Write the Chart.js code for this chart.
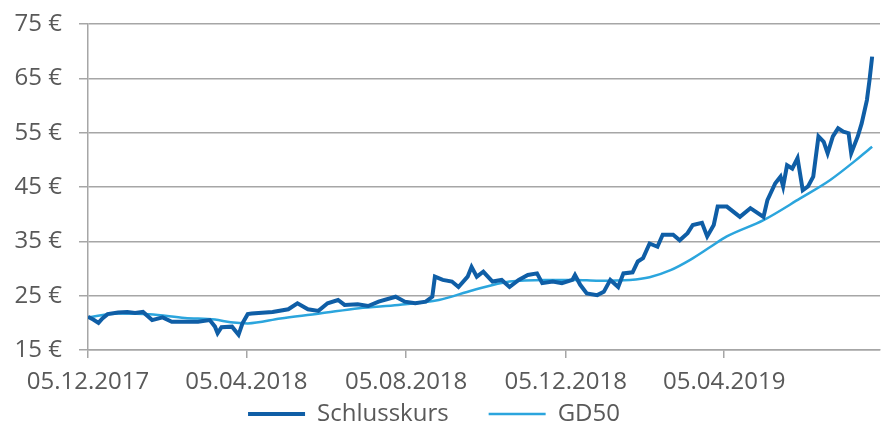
<!DOCTYPE html>
<html>
<head>
<meta charset="utf-8">
<script src="https://cdn.jsdelivr.net/npm/chart.js@4"></script>
<style>
  html, body { margin: 0; padding: 0; background: #fff; }
  #wrap { width: 887px; height: 425px; }
</style>
</head>
<body>
<div id="wrap"><canvas id="kursChart"></canvas></div>
<script>
// days counted from 05.12.2017
const tickDays = [0, 121, 243, 365, 486];
const tickLabels = ["05.12.2017", "05.04.2018", "05.08.2018", "05.12.2018", "05.04.2019"];

const closeDays = [0, 4, 8, 11, 15, 23, 30, 36, 42, 49, 57, 64, 74, 84, 93, 97, 99, 102, 110, 115,
  118, 122, 125, 141, 153, 160, 168, 176, 183, 191, 196, 206, 214, 222, 235, 242, 250, 258, 263, 265,
  271, 278, 283, 290, 293, 297, 302, 309, 316, 322, 329, 336, 343, 347, 355, 362, 370, 372, 376, 381,
  389, 394, 399, 405, 409, 416, 420, 424, 429, 435, 439, 447, 452, 458, 462, 469, 473, 478, 481, 488,
  498, 506, 516, 519, 525, 529, 531, 534, 538, 542, 546, 550, 554, 558, 562, 565, 569, 573, 577, 581,
  583, 588, 591, 595, 597, 599];
const closeValues = [21.1, 20.6, 20.0, 20.8, 21.6, 21.9, 22.0, 21.8, 22.0, 20.5, 21.0, 20.2, 20.2, 20.2, 20.5, 19.3, 18.1, 19.2, 19.3, 17.8,
  19.9, 21.6, 21.7, 22.0, 22.5, 23.6, 22.5, 22.2, 23.6, 24.2, 23.3, 23.4, 23.1, 23.9, 24.8, 23.9, 23.6, 23.9, 24.8, 28.5,
  27.9, 27.6, 26.6, 28.5, 30.3, 28.5, 29.4, 27.6, 27.9, 26.6, 27.9, 28.8, 29.1, 27.3, 27.6, 27.3, 27.9, 28.8, 27.0, 25.4,
  25.1, 25.7, 27.9, 26.6, 29.1, 29.3, 31.3, 31.9, 34.6, 34.0, 36.2, 36.2, 35.2, 36.5, 38.0, 38.4, 35.9, 38.0, 41.4, 41.4,
  39.5, 41.1, 39.5, 42.6, 45.7, 46.9, 45.1, 49.0, 48.4, 50.3, 44.4, 45.1, 46.9, 54.3, 53.3, 51.2, 54.3, 55.8, 55.2, 54.9,
  51.2, 54.3, 56.7, 61.0, 64.7, 69.0];

const gdDays = [0, 23, 47, 74, 97, 109, 122, 147, 177, 207, 237, 268, 294, 322, 349, 372, 390, 414,
  429, 445, 460, 475, 488, 516, 544, 567, 590, 599];
const gdValues = [21.0, 21.7, 21.6, 20.9, 20.6, 20.1, 19.9, 20.8, 21.7, 22.7, 23.3, 24.2, 26.0, 27.6, 27.9, 27.9, 27.75, 27.9,
  28.4, 29.7, 31.6, 33.9, 35.9, 38.9, 42.9, 46.3, 50.6, 52.4];

const gridColor = "#a6a6a6";
const textColor = "#595959";
const font = { family: "'Open Sans', sans-serif", size: 24 };

// legend padding is also the gap between items, so pull the box back up after layout
const legendShift = {
  id: "legendShift",
  afterLayout(chart) {
    const lg = chart.legend;
    lg.top -= 35;
    lg.left -= 6; lg.right -= 6;
  },
};

new Chart(document.getElementById("kursChart"), {
  type: "line",
  data: {
    datasets: [
      {
        label: "Schlusskurs",
        data: closeDays.map((d, i) => ({ x: d, y: closeValues[i] })),
        borderColor: "#0f5ea6",
        borderWidth: 4,
        pointRadius: 0,
        tension: 0,
      },
      {
        label: "GD50",
        data: gdDays.map((d, i) => ({ x: d, y: gdValues[i] })),
        borderColor: "#2ba5dd",
        borderWidth: 2.5,
        pointRadius: 0,
        cubicInterpolationMode: "monotone",
      },
    ],
  },
  plugins: [legendShift],
  options: {
    responsive: true,
    maintainAspectRatio: false,
    animation: false,
    layout: { padding: { top: 24, right: 7, left: 0, bottom: 0 } },
    plugins: {
      tooltip: { enabled: false },
      legend: {
        position: "bottom",
        maxHeight: 28,
        labels: {
          usePointStyle: true,
          pointStyle: "line",
          pointStyleWidth: 57,
          padding: 40,
          color: textColor,
          font: font,
        },
      },
    },
    scales: {
      x: {
        type: "linear",
        min: 0,
        max: 605,
        afterFit: (s) => { s.height = 47; },
        afterBuildTicks: (s) => { s.ticks = tickDays.map(v => ({ value: v })); },
        grid: { drawOnChartArea: false, drawTicks: true, tickLength: 8, color: gridColor, lineWidth: 1.5 },
        border: { color: gridColor, width: 1.5 },
        ticks: {
          maxRotation: 0,
          autoSkip: false,
          padding: 10,
          color: textColor,
          font: font,
          callback: (v, i) => tickLabels[i],
        },
      },
      y: {
        min: 15,
        max: 75,
        afterFit: (s) => { s.width = 88; },
        grid: { color: gridColor, lineWidth: 1.5, tickLength: 9 },
        border: { color: gridColor, width: 1.5 },
        ticks: {
          stepSize: 10,
          padding: 17,
          color: textColor,
          // small lineHeight keeps the top label from pushing the plot down
          font: { family: font.family, size: 24, lineHeight: 0.5 },
          callback: (v) => v + " €",
        },
      },
    },
  },
});
</script>
</body>
</html>
